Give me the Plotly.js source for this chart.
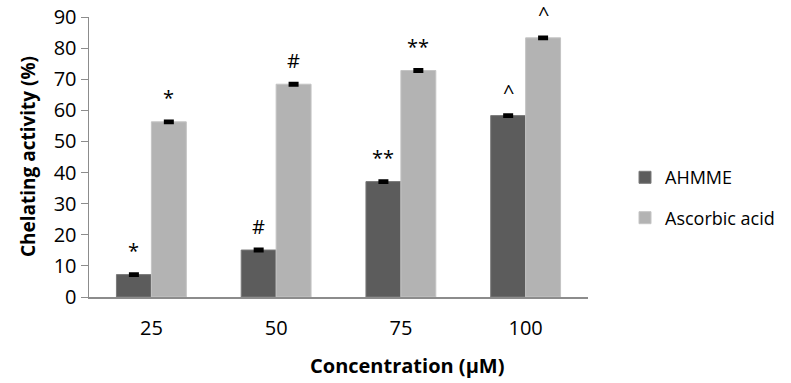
<!DOCTYPE html>
<html>
<head>
<meta charset="utf-8">
<script src="https://cdn.plot.ly/plotly-3.0.1.min.js"></script>
<style>html,body{margin:0;padding:0;background:#fff;}#chart{width:791px;height:383px;}</style>
</head>
<body>
<div id="chart"></div>
<script>
const categories = ["25", "50", "75", "100"];
const ahmmeValues = [7.2, 15.1, 37.1, 58.3];
const ascorbicValues = [56.3, 68.4, 72.8, 83.3];
const ahmmeErrors = [0.3, 0.3, 0.3, 0.3];
const ascorbicErrors = [0.3, 0.3, 0.3, 0.3];
const ahmmeMarks = ["*", "#", "**", "^"];
const ascorbicMarks = ["*", "#", "**", "^"];
const yTickVals = [0, 10, 20, 30, 40, 50, 60, 70, 80, 90];
const xTitle = "Concentration (µM)";
const yTitle = "Chelating activity (%)";

const FONT = "'Open Sans', sans-serif";
const bargap = 0.44;
const half = (1 - bargap) / 4;

const traces = [
  {
    type: "bar", name: "AHMME", x: categories, y: ahmmeValues, legendgroup: "a",
    marker: {color: "#5c5c5c", line: {color: "#7a7a7a", width: 1}},
    error_y: {type: "data", array: ahmmeErrors, visible: true, color: "#000", thickness: 3, width: 5}
  },
  {
    type: "bar", name: "Ascorbic acid", x: categories, y: ascorbicValues, legendgroup: "b",
    marker: {color: "#b3b3b3", line: {color: "#c4c4c4", width: 1}},
    error_y: {type: "data", array: ascorbicErrors, visible: true, color: "#000", thickness: 3, width: 5}
  }
];

const annotations = [];
categories.forEach((c, i) => {
  annotations.push({x: i - half, y: ahmmeValues[i], xref: "x", yref: "y", text: ahmmeMarks[i],
    showarrow: false, yanchor: "middle", yshift: 24, font: {family: FONT, size: 20, color: "#000"}});
  annotations.push({x: i + half, y: ascorbicValues[i], xref: "x", yref: "y", text: ascorbicMarks[i],
    showarrow: false, yanchor: "middle", yshift: 24, font: {family: FONT, size: 20, color: "#000"}});
});
annotations.push({text: xTitle, xref: "paper", yref: "paper", x: 0.638, y: -0.243,
  xanchor: "center", yanchor: "middle", showarrow: false,
  font: {family: FONT, size: 20, weight: "bold", color: "#000"}});
annotations.push({text: yTitle, xref: "paper", yref: "paper", x: -0.122, y: 0.5, textangle: -90,
  xanchor: "center", yanchor: "middle", showarrow: false,
  font: {family: FONT, size: 19, weight: "bold", color: "#000"}});

const layout = {
  width: 791, height: 383,
  margin: {l: 89, r: 202, t: 17, b: 86},
  paper_bgcolor: "#fff", plot_bgcolor: "#fff",
  font: {family: FONT, size: 20, color: "#000"},
  barmode: "group", bargap: bargap, bargroupgap: 0,
  showlegend: true,
  legend: {x: 1.072, xanchor: "left", y: 0.355, yanchor: "middle", traceorder: "grouped",
    tracegroupgap: 14, font: {family: FONT, size: 18, color: "#000"}, bgcolor: "rgba(0,0,0,0)"},
  xaxis: {
    type: "category", showline: true, linecolor: "#8c8c8c", linewidth: 1.5, ticks: "",
    showgrid: false, zeroline: false, tickfont: {family: FONT, size: 20}, ticklabelstandoff: 12
  },
  yaxis: {
    range: [0, 90], tickvals: yTickVals, showline: true, linecolor: "#8c8c8c", linewidth: 1.5,
    ticks: "outside", ticklen: 7, tickcolor: "#8c8c8c", showgrid: false, zeroline: false,
    tickfont: {family: FONT, size: 20}, ticksuffix: "\u2002"
  },
  annotations: annotations
};

Plotly.newPlot("chart", traces, layout, {staticPlot: true, displayModeBar: false});
</script>
</body>
</html>
